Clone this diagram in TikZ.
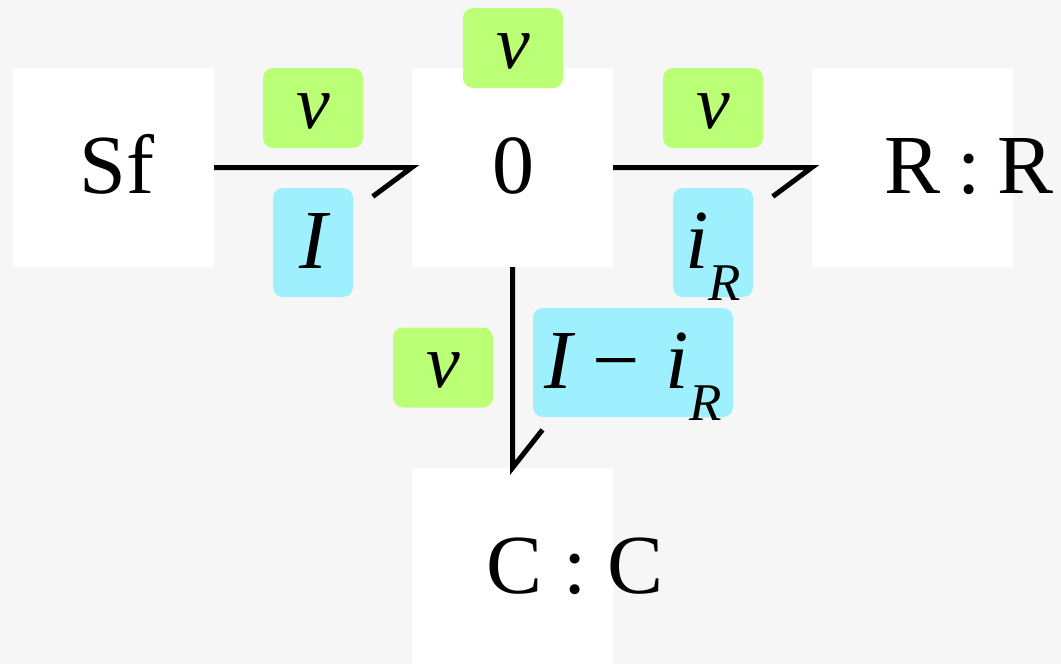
\documentclass[tikz,border=0pt]{standalone}
\usepackage{fontspec}
\setmainfont{Liberation Serif}
\definecolor{bgc}{HTML}{F6F6F6}
\definecolor{effortc}{HTML}{BBFF77}
\definecolor{flowc}{HTML}{9FF0FF}
\newcommand\subR{\smash{\raisebox{-32pt}{\fontsize{53}{60}\selectfont R}}}
\begin{document}
\begin{tikzpicture}[x=1pt,y=-1pt,
  blk/.style={fill=white, minimum width=201pt, minimum height=199pt, inner sep=0pt},
  big/.style={font=\fontsize{84}{90}\selectfont, inner sep=0pt, anchor=base},
  eff/.style={fill=effortc, rounded corners=10pt, minimum width=100pt, minimum height=80pt, inner sep=0pt, text height=40pt, text depth=0pt, font=\fontsize{76}{80}\selectfont\itshape},
  flw/.style={fill=flowc, rounded corners=10pt, minimum height=109pt, inner sep=0pt, text height=51pt, text depth=0pt, font=\fontsize{84}{90}\selectfont\itshape},
  bond/.style={line width=5pt}]
\fill[bgc] (0,0) rectangle (1061,664);
\useasboundingbox (0,0) rectangle (1061,664);
% boxes
\node[blk] (sf) at (113.5,167.5) {};
\node[blk] (zero) at (512.5,167.5) {};
\node[blk] (rr) at (912.5,167.5) {};
\node[blk] (cc) at (512.5,567.5) {};
% texts
\node[big] (sft) at (117,193) {Sf};
\node[big] (zt) at (513,193) {0};
\node[big] (rt) at (969,193) {R\hspace{17pt}:\hspace{17pt}R};
\node[big] (ct) at (575,593) {C : C};
% bonds
\draw[bond] (sf.east) -- (zero.west) -- ++(-39,29);
\draw[bond] (zero.east) -- (rr.west) -- ++(-39,29);
\draw[bond] (zero.south) -- (cc.north) -- ++(30,-38);
% efforts
\node[eff] (e1) at (313,108) {v};
\node[eff] (e0) at (513,48) {v};
\node[eff] (e2) at (713,108) {v};
\node[eff] (e3) at (443,367.5) {v};
% flows
\node[flw, minimum width=80pt] (f1) at (313,242.5) {I};
\node[flw, minimum width=80pt] (f2) at (713,242.5) {i\subR};
\node[flw, minimum width=200pt] (f3) at (633,362.5) {I\hspace{20pt}{\upshape −}\hspace{26pt}i\subR};
\end{tikzpicture}
\end{document}
